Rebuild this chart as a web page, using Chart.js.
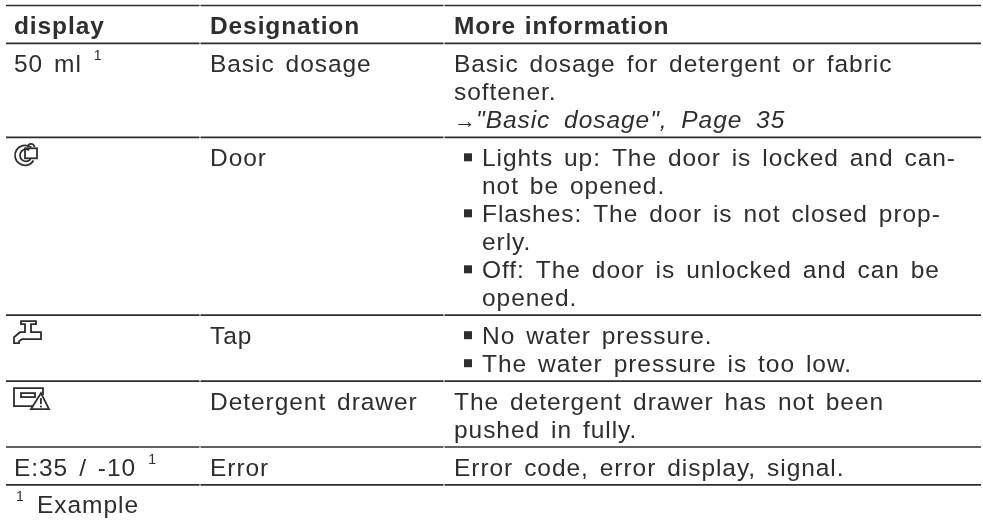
<!DOCTYPE html>
<html>
<head>
<meta charset="utf-8">
<style>
  html, body { margin: 0; padding: 0; background: #fff; }
  #wrap { width: 983px; height: 522px; }
</style>
<script src="https://cdn.jsdelivr.net/npm/chart.js@4"></script>
</head>
<body>
<div id="wrap"><canvas id="chart"></canvas></div>
<script>
const headers = ["display", "Designation", "More information"];
const displayCol = ["50 ml", null, null, null, "E:35 / -10"];
const displayIcons = [null, "door", "tap", "drawer", null];
const displayNotes = ["1", null, null, null, "1"];
const designations = ["Basic dosage", "Door", "Tap", "Detergent drawer", "Error"];
const infoLines = [
  ["Basic dosage for detergent or fabric", "softener.", "\u2192 \"Basic dosage\", Page 35"],
  ["Lights up: The door is locked and can-", "not be opened.", "Flashes: The door is not closed prop-", "erly.", "Off: The door is unlocked and can be", "opened."],
  ["No water pressure.", "The water pressure is too low."],
  ["The detergent drawer has not been", "pushed in fully."],
  ["Error code, error display, signal."]
];
const bulletRows = [1, 2];
const bulletStarts = [[0, 2, 4], [0, 1]];
const footNote = ["1", "Example"];

const INK = "#2e2e2e";
const FONT = "Liberation Sans, Arial, sans-serif";
const colEdges = [6, 200, 444, 981];
const colText = [14, 210, 454];
const LINE = 28, PAD = 9.9;

// rule positions follow from how many lines each row holds
const ruleY = [5.5];
ruleY.push(ruleY[0] + LINE + PAD);
infoLines.forEach(l => ruleY.push(ruleY[ruleY.length - 1] + LINE * l.length + PAD));

const ruleSets = [];
ruleY.forEach(y => {
  for (let c = 0; c < 3; c++) {
    ruleSets.push({
      data: [{ x: colEdges[c] + (c ? 0.5 : 0), y }, { x: colEdges[c + 1] - (c < 2 ? 0.5 : 0), y }],
      showLine: true, borderColor: INK, borderWidth: 1.7, pointRadius: 0
    });
  }
});

function put(ctx, str, x, y, font, spacing, wordGap) {
  ctx.font = font;
  ctx.letterSpacing = spacing + "px";
  ctx.wordSpacing = (wordGap || 0) + "px";
  ctx.fillText(str, x, y);
}

const icons = {
  door(ctx, x, y) {
    ctx.beginPath(); ctx.arc(x + 11, y - 10, 10, 0.55, Math.PI * 2 - 0.9); ctx.stroke();
    ctx.beginPath(); ctx.arc(x + 12, y - 10, 6, 0.7, Math.PI * 2 - 1.0); ctx.stroke();
    ctx.strokeRect(x + 11, y - 17, 12, 10);
    ctx.beginPath(); ctx.arc(x + 17, y - 18, 3.5, Math.PI, 0); ctx.stroke();
  },
  tap(ctx, x, y) {
    ctx.beginPath();
    ctx.moveTo(x + 7, y - 22); ctx.lineTo(x + 22, y - 22); ctx.lineTo(x + 22, y - 19);
    ctx.lineTo(x + 17, y - 19); ctx.lineTo(x + 17, y - 11); ctx.lineTo(x + 27, y - 11);
    ctx.lineTo(x + 27, y - 4); ctx.lineTo(x + 8, y - 4); ctx.lineTo(x + 5, y - 2);
    ctx.lineTo(x + 5, y); ctx.lineTo(x, y); ctx.lineTo(x, y - 6);
    ctx.lineTo(x + 6, y - 11); ctx.lineTo(x + 11, y - 11); ctx.lineTo(x + 11, y - 19);
    ctx.lineTo(x + 7, y - 19); ctx.closePath(); ctx.stroke();
  },
  drawer(ctx, x, y) {
    ctx.beginPath();
    ctx.moveTo(x + 29, y - 14); ctx.lineTo(x + 29, y - 21); ctx.lineTo(x, y - 21);
    ctx.lineTo(x, y - 3); ctx.lineTo(x + 19, y - 3); ctx.stroke();
    ctx.strokeRect(x + 7, y - 16, 14, 4);
    ctx.beginPath();
    ctx.moveTo(x + 27, y - 16); ctx.lineTo(x + 35, y); ctx.lineTo(x + 17, y); ctx.closePath(); ctx.stroke();
    ctx.fillRect(x + 26, y - 11, 1.8, 6); ctx.fillRect(x + 26, y - 3.5, 1.8, 1.8);
  }
};

const tablePlugin = {
  id: "tableText",
  afterDatasetsDraw(chart) {
    const { ctx, scales: { x: xs, y: ys } } = chart;
    const body = "24.5px " + FONT, bold = "bold 24.5px " + FONT, ital = "italic 24.5px " + FONT, sup = "14px " + FONT;
    const LS = 0.95, WS = 3.2;
    const px = v => xs.getPixelForValue(v), py = v => ys.getPixelForValue(v);
    ctx.save();
    ctx.fillStyle = INK; ctx.strokeStyle = INK; ctx.textBaseline = "alphabetic";

    headers.forEach((h, c) => put(ctx, h, px(colText[c]), py(ruleY[0] + 28), bold, 0.9, 1));

    infoLines.forEach((lines, r) => {
      const base = ruleY[r + 1] + 29;
      if (displayCol[r]) {
        put(ctx, displayCol[r], px(colText[0]), py(base), body, LS, WS);
        const w = ctx.measureText(displayCol[r]).width;
        put(ctx, displayNotes[r], px(colText[0] + w + 12), py(base - 12), sup, 0);
      } else {
        ctx.lineWidth = 1.8;
        icons[displayIcons[r]](ctx, px(colText[0]), py(base - 1));
      }
      put(ctx, designations[r], px(colText[1]), py(base), body, LS, WS);

      const bi = bulletRows.indexOf(r);
      lines.forEach((line, i) => {
        const y = base + i * LINE;
        if (bi >= 0) {
          if (bulletStarts[bi].includes(i)) ctx.fillRect(px(colText[2] + 10), py(y - 13), 8, 8);
          put(ctx, line, px(colText[2] + 28), py(y), body, LS, WS);
        } else if (line.startsWith("\u2192")) {
          put(ctx, "\u2192", px(colText[2]), py(y), "22px " + FONT, 0);
          put(ctx, line.slice(2), px(colText[2] + 22), py(y), ital, LS, 6);
        } else {
          put(ctx, line, px(colText[2]), py(y), body, LS, WS);
        }
      });
    });

    const last = ruleY[ruleY.length - 1];
    put(ctx, footNote[0], px(colText[0] + 2), py(last + 16), sup, 0);
    put(ctx, footNote[1], px(colText[0] + 23), py(last + 28), body, LS, WS);
    ctx.restore();
  }
};

new Chart(document.getElementById("chart"), {
  type: "scatter",
  data: { datasets: ruleSets },
  plugins: [tablePlugin],
  options: {
    responsive: true,
    maintainAspectRatio: false,
    animation: false,
    layout: { padding: 0 },
    plugins: { legend: { display: false }, tooltip: { enabled: false } },
    scales: {
      x: { type: "linear", min: 0, max: 983, display: false },
      y: { type: "linear", min: 0, max: 522, reverse: true, display: false }
    }
  }
});
</script>
</body>
</html>
